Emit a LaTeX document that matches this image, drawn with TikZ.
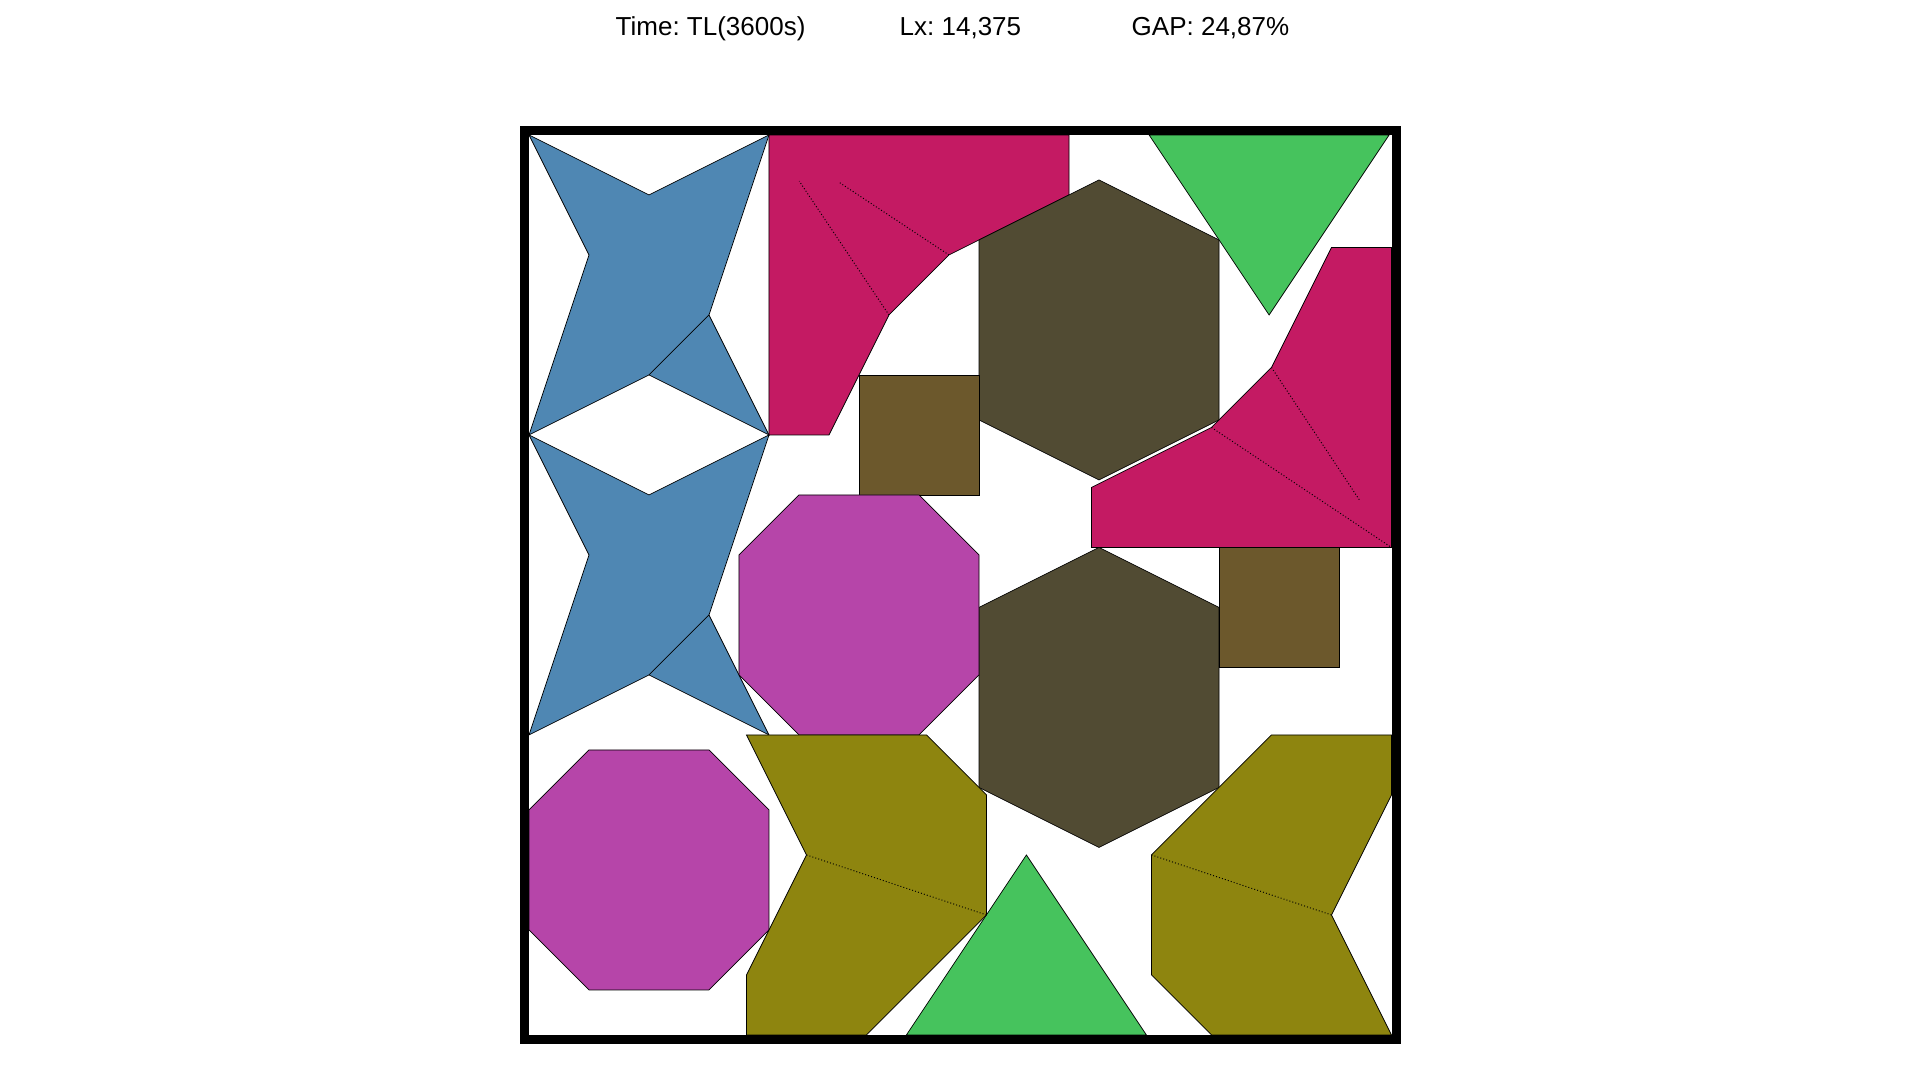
\documentclass[tikz,border=0pt]{standalone}
\usepackage{fontspec}
\setmainfont{Liberation Sans}
\definecolor{cblue}{HTML}{4F87B3}
\definecolor{cmag}{HTML}{C41A63}
\definecolor{chex}{HTML}{514B33}
\definecolor{csq}{HTML}{6C582C}
\definecolor{cgreen}{HTML}{46C35D}
\definecolor{corchid}{HTML}{B645A9}
\definecolor{colive}{HTML}{8E850F}
\tikzset{
  piece/.style={draw=black, line width=0.2pt, line join=miter},
  cutline/.style={draw=black, line width=0.28pt, dash pattern=on 0.28pt off 0.6pt},
  hdr/.style={anchor=base west, inner sep=0pt, font=\fontsize{7.4}{9}\selectfont},
  stripframe/.style={draw=black, line width=0.9mm}
}
\frenchspacing
\begin{document}
\begin{tikzpicture}[x=0.6cm,y=0.6cm]
\useasboundingbox (-8.816667,-0.75) rectangle (23.183333,17.25);

% header
\node[hdr] (time) at (1.433,16.65) {Time: TL(3600s)};
\node[hdr] (lx) at (6.167,16.65) {Lx: 14,375};
\node[hdr] (gap) at (10.033,16.65) {GAP: 24,87\%};

% blue stars
\foreach \dy in {0,-5}{
  \begin{scope}[yshift=\dy*0.6cm]
    \filldraw[piece, fill=cblue] (0,15)--(2,14)--(4,15)--(3,12)--(4,10)--(2,11)--(0,10)--(1,13)--cycle;
    \draw[piece] (2,11)--(3,12);
  \end{scope}
}

% magenta pieces
\filldraw[piece, fill=cmag] (4,15)--(9,15)--(9,14)--(7,13)--(6,12)--(5,10)--(4,10)--cycle;
\draw[cutline] (6,12)--(4.505,14.23);
\draw[cutline] (7,13)--(5.17,14.21);

\filldraw[piece, fill=cmag] (14.375,8.125)--(9.375,8.125)--(9.375,9.125)--(11.375,10.125)--(12.375,11.125)--(13.375,13.125)--(14.375,13.125)--cycle;
\draw[cutline] (12.375,11.125)--(13.845,8.91);
\draw[cutline] (11.375,10.125)--(14.375,8.125);

% hexagons
\foreach \dy in {0,-6.125}{
  \begin{scope}[yshift=\dy*0.6cm]
    \filldraw[piece, fill=chex] (9.5,14.25)--(11.5,13.25)--(11.5,10.25)--(9.5,9.25)--(7.5,10.25)--(7.5,13.25)--cycle;
  \end{scope}
}

% squares
\filldraw[piece, fill=csq] (5.5,9) rectangle (7.5,11);
\filldraw[piece, fill=csq] (11.5,6.125) rectangle (13.5,8.125);

% green triangles
\filldraw[piece, fill=cgreen] (10.335,15)--(14.335,15)--(12.335,12)--cycle;
\filldraw[piece, fill=cgreen] (6.29,0)--(10.29,0)--(8.29,3)--cycle;

% octagons
\filldraw[piece, fill=corchid] (4.5,9)--(6.5,9)--(7.5,8)--(7.5,6)--(6.5,5)--(4.5,5)--(3.5,6)--(3.5,8)--cycle;
\filldraw[piece, fill=corchid] (1,4.75)--(3,4.75)--(4,3.75)--(4,1.75)--(3,0.75)--(1,0.75)--(0,1.75)--(0,3.75)--cycle;

% olive pieces
\filldraw[piece, fill=colive] (3.625,5)--(6.625,5)--(7.625,4)--(7.625,2)--(5.625,0)--(3.625,0)--(3.625,1)--(4.625,3)--cycle;
\draw[cutline] (4.625,3)--(7.625,2);
\filldraw[piece, fill=colive] (12.375,5)--(14.375,5)--(14.375,4)--(13.375,2)--(14.375,0)--(11.375,0)--(10.375,1)--(10.375,3)--cycle;
\draw[cutline] (10.375,3)--(13.375,2);

% strip frame
\draw[stripframe] (-0.075,-0.075) rectangle (14.45,15.075);
\end{tikzpicture}
\end{document}
